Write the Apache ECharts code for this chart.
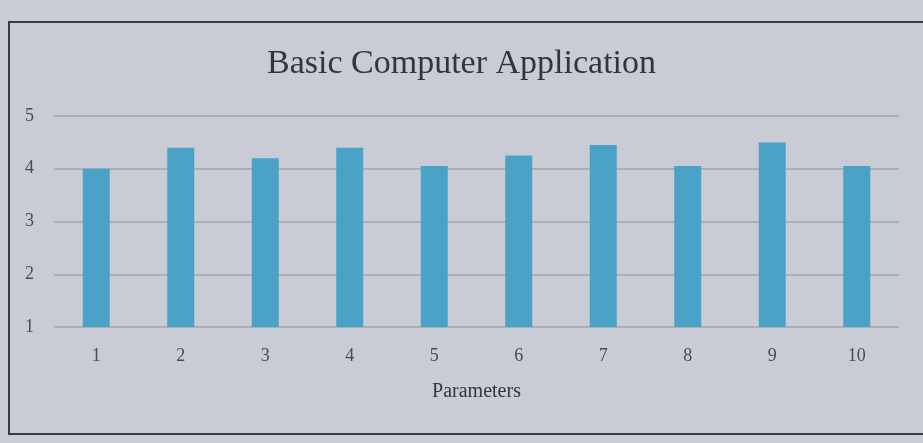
<!DOCTYPE html>
<html lang="en">
<head>
    <meta charset="UTF-8" />
    <title>Basic Computer Application</title>
    <script src="https://cdn.jsdelivr.net/npm/echarts@6/dist/echarts.min.js"></script>
    <style>
        html, body { margin: 0; padding: 0; background: #c9ccd4; }
    </style>
</head>
<body>
    <div id="bar" style="width:923px;height:443px;"></div>
    <script type="text/javascript">
        // data
        var categories = ['1', '2', '3', '4', '5', '6', '7', '8', '9', '10'];
        var scores = [4.0, 4.4, 4.2, 4.4, 4.05, 4.25, 4.45, 4.05, 4.5, 4.05];
        var yTicks = [1, 2, 3, 4, 5];

        var chart = echarts.init(document.getElementById('bar'));
        var serif = '"Liberation Serif", "DejaVu Serif", serif';

        var option = {
            backgroundColor: '#c9ccd4',
            animation: false,
            title: {
                text: 'Basic Computer Application',
                left: 'center',
                top: 42,
                textStyle: {
                    color: '#34353b',
                    fontFamily: serif,
                    fontSize: 34,
                    fontWeight: 'normal'
                }
            },
            // outer frame of the printed chart
            graphic: [{
                type: 'rect',
                shape: { x: 9, y: 22, width: 940, height: 412 },
                style: { fill: 'none', stroke: '#3a3b40', lineWidth: 2 },
                silent: true
            }],
            grid: {
                left: 54,
                right: 24,
                top: 116,
                bottom: 116
            },
            xAxis: {
                type: 'category',
                data: categories,
                name: 'Parameters',
                nameLocation: 'middle',
                nameGap: 55,
                nameTextStyle: {
                    color: '#34353b',
                    fontFamily: serif,
                    fontSize: 20
                },
                axisLine: { show: false },
                axisTick: { show: false },
                axisLabel: {
                    color: '#4a4b52',
                    fontFamily: serif,
                    fontSize: 18,
                    margin: 20
                }
            },
            yAxis: {
                type: 'value',
                min: yTicks[0],
                max: yTicks[yTicks.length - 1],
                interval: 1,
                axisLine: { show: false },
                axisTick: { show: false },
                axisLabel: {
                    color: '#4a4b52',
                    fontFamily: serif,
                    fontSize: 18,
                    margin: 20
                },
                splitLine: {
                    lineStyle: { color: '#a3a6ae', width: 1.5 }
                }
            },
            series: [{
                type: 'bar',
                data: scores,
                barWidth: 27,
                itemStyle: { color: '#4aa2c6' }
            }]
        };

        chart.setOption(option);
    </script>
</body>
</html>
